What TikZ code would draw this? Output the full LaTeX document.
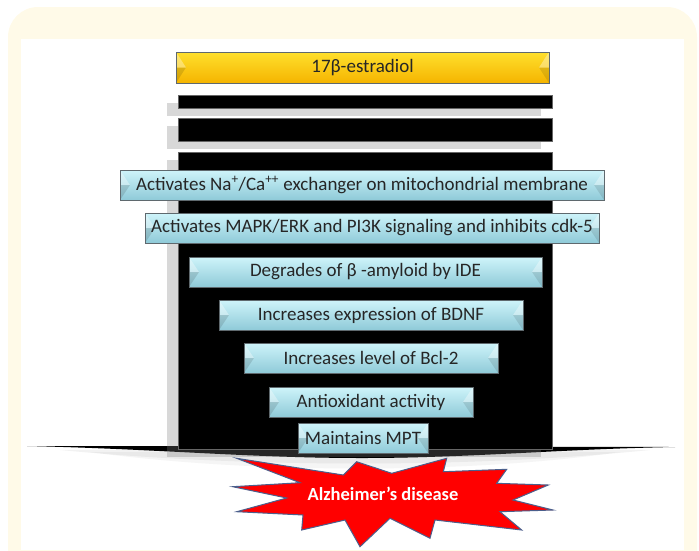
\documentclass[tikz,border=0pt]{standalone}
\usepackage{fontspec}
\setmainfont{Carlito}
\usetikzlibrary{shadows}

\definecolor{creambg}{RGB}{255,250,232}
\definecolor{goldtop}{RGB}{255,224,45}
\definecolor{goldbot}{RGB}{245,180,0}
\definecolor{bluetop}{RGB}{206,244,250}
\definecolor{bluebot}{RGB}{143,202,216}
\definecolor{boxline}{RGB}{95,105,110}
\definecolor{starline}{RGB}{75,95,140}

\tikzset{
  bevelbox/.style={draw=boxline, line width=0.8pt, minimum height=30pt, inner sep=0pt,
    font=\fontsize{19}{21}\selectfont, text=black!85,
    path picture={
      \fill[white,opacity=.35] (path picture bounding box.north west) -- ([xshift=10pt]path picture bounding box.west) -- (path picture bounding box.west) -- cycle;
      \fill[black,opacity=.12] (path picture bounding box.south west) -- ([xshift=10pt]path picture bounding box.west) -- (path picture bounding box.west) -- cycle;
      \fill[white,opacity=.35] (path picture bounding box.north east) -- ([xshift=-10pt]path picture bounding box.east) -- (path picture bounding box.east) -- cycle;
      \fill[black,opacity=.10] (path picture bounding box.south east) -- ([xshift=-10pt]path picture bounding box.east) -- (path picture bounding box.east) -- cycle;
    }},
  effect/.style={bevelbox, top color=bluetop, bottom color=bluebot},
  hormone/.style={bevelbox, top color=goldtop, bottom color=goldbot, minimum height=31pt},
  barfill/.style={fill=black, draw=black!60, line width=0.6pt,
    drop shadow={shadow xshift=-11pt, shadow yshift=-8pt, opacity=.3, fill=gray}}
}

\begin{document}
\begin{tikzpicture}[x=1pt,y=-1pt]
\useasboundingbox (0,0) rectangle (699,550);
% page background
\fill[creambg, rounded corners=30pt] (8,7) rectangle (697,590);
\fill[white] (21,39) rectangle (684,550);

% black stack
\fill[barfill] (178,95) rectangle (552,108);
\fill[barfill] (178,118) rectangle (552,141);
\fill[gray, opacity=.10] (60,450) .. controls (250,468) and (470,468) .. (650,450) -- cycle;
\fill[gray, opacity=.08] (90,452) .. controls (250,474) and (470,474) .. (620,452) -- cycle;
\fill[black] (27,446) -- (675,447) .. controls (560,449) and (470,458) .. (362,458)
  .. controls (250,458) and (160,449) .. cycle;
\fill[barfill] (178,152) rectangle (552,449);

% top box
\node[hormone, minimum width=373pt] (estr) at (362.5,67.5) {17β-estradiol};

% effects
\node[effect, minimum width=484pt] (na) at (362,185) {Activates Na\textsuperscript{+}/Ca\textsuperscript{++} exchanger on mitochondrial membrane};
\node[effect, minimum width=454pt] (mapk) at (372,228) {Activates MAPK/ERK and PI3K signaling and inhibits cdk-5};
\node[effect, minimum width=353pt] (ide) at (365.5,272) {Degrades of β -amyloid by IDE};
\node[effect, minimum width=304pt] (bdnf) at (371,315) {Increases expression of BDNF};
\node[effect, minimum width=254pt] (bcl) at (371,358) {Increases level of Bcl-2};
\node[effect, minimum width=204pt] (antiox) at (371,402) {Antioxidant activity};
\node[effect, minimum width=130pt] (mpt) at (363,438) {Maintains MPT};

% starburst
\draw[fill=red, draw=starline, line width=1pt, line join=miter]
  (236.7,458.3) -- (343.3,475) -- (356.7,461.7) -- (391.7,473.3) -- (446.7,458.3)
  -- (443.3,471.7) -- (506.7,469.3) -- (496.7,483.3) -- (548.3,485) -- (513,500)
  -- (553,510) -- (500,511.7) -- (521.7,530) -- (435,520) -- (430,538.3)
  -- (390,518.3) -- (360,546.7) -- (345,520) -- (301.7,530) -- (303,515)
  -- (236.7,511.7) -- (286.7,498) -- (232.7,486.7) -- (300,482.7) -- cycle;
\node[text=white, font=\fontsize{18.5}{20}\selectfont\bfseries] (ad) at (383,494) {Alzheimer’s disease};
\end{tikzpicture}
\end{document}
